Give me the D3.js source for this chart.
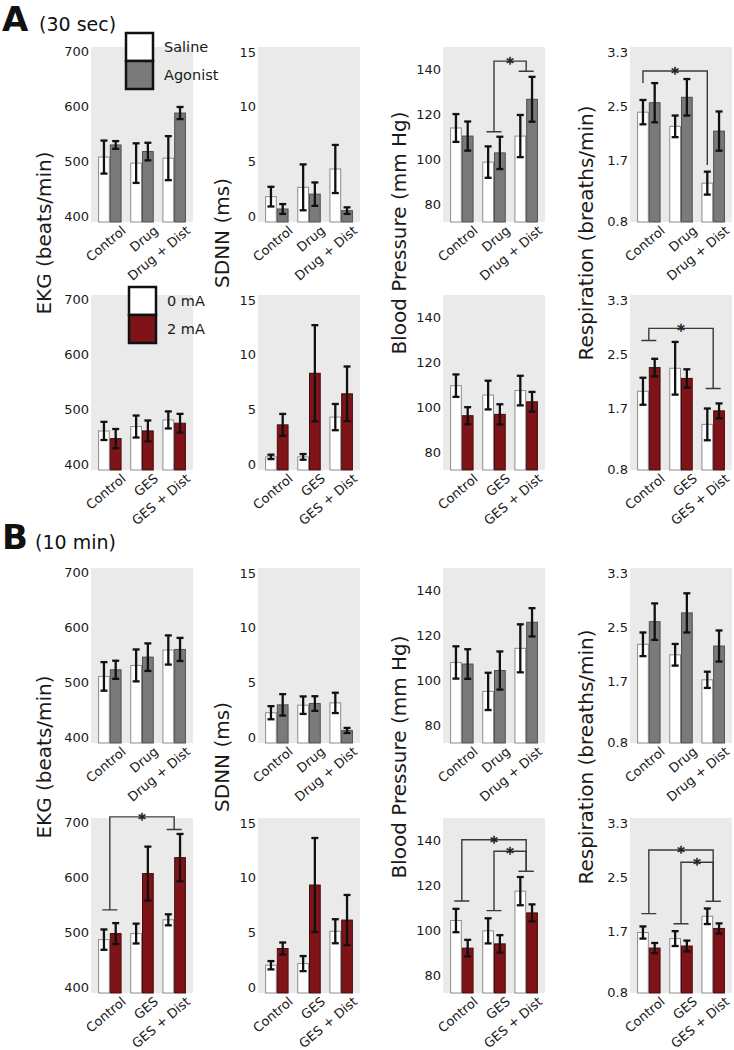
<!DOCTYPE html>
<html><head><meta charset="utf-8">
<script src="https://cdn.jsdelivr.net/npm/d3@7"></script>
<style>body{margin:0;background:#fff} text{font-family:"DejaVu Sans",sans-serif}</style>
</head><body><svg id="c" width="734" height="1050"></svg>
<script>
// ---------- DATA ----------
const drugGroups = ["Control", "Drug", "Drug + Dist"];
const gesGroups = ["Control", "GES", "GES + Dist"];
const drugSeries = ["Saline", "Agonist"];
const gesSeries = ["0 mA", "2 mA"];
const metricLabels = ["EKG (beats/min)", "SDNN (ms)", "Blood Pressure (mm Hg)", "Respiration (breaths/min)"];
const ekgTicks = [400, 500, 600, 700];
const sdnnTicks = [0, 5, 10, 15];
const bpTicks = [80, 100, 120, 140];
const respTicks = [0.8, 1.7, 2.5, 3.3];
const sectionTitles = ["A", "B"];
const sectionSubtitles = ["(30 sec)", "(10 min)"];

// means / errors, order: [g0s0, g0s1, g1s0, g1s1, g2s0, g2s1]; rows of metrics: EKG, SDNN, BP, Resp
const row1Means = [
  [507, 529, 496, 517, 505, 587],
  [1.77, 0.64, 2.62, 2.0, 4.3, 0.49],
  [113.9, 110.3, 98.7, 102.8, 110.3, 126.7],
  [2.41, 2.55, 2.2, 2.63, 1.36, 2.13]];
const row1Errs = [
  [30, 7, 36, 16, 40, 11],
  [0.9, 0.45, 2.1, 1.07, 2.2, 0.3],
  [6.2, 6.5, 7, 7.2, 9.4, 10],
  [0.18, 0.29, 0.16, 0.27, 0.17, 0.29]];
const row2Means = [
  [460, 446, 468, 460, 480, 474],
  [0.65, 3.58, 0.65, 8.3, 4.29, 6.42],
  [109.6, 96.2, 105.4, 96.8, 107.4, 102.4],
  [1.95, 2.30, 2.29, 2.14, 1.46, 1.66]];
const row2Errs = [
  [16.5, 17.5, 20, 19, 15.5, 17],
  [0.2, 1.0, 0.26, 4.4, 1.2, 2.5],
  [5, 3.8, 6.4, 4.5, 6.6, 4.4],
  [0.2, 0.13, 0.39, 0.135, 0.235, 0.11]];
const row3Means = [
  [510, 522, 530, 545, 558, 559],
  [2.22, 2.94, 2.91, 3.06, 3.12, 0.6],
  [107.9, 107.2, 95, 104.3, 114.2, 125.8],
  [2.245, 2.58, 2.09, 2.71, 1.72, 2.22]];
const row3Errs = [
  [26, 16.5, 29, 25, 26.5, 21],
  [0.6, 0.98, 0.8, 0.67, 0.93, 0.23],
  [7.2, 6.6, 8.3, 8.5, 10.7, 6.3],
  [0.175, 0.27, 0.16, 0.29, 0.12, 0.23]];
const row4Means = [
  [486, 497, 497, 606, 522, 635],
  [1.99, 3.52, 2.14, 9.33, 5.1, 6.12],
  [104.3, 92, 99.7, 93.9, 117.4, 107.7],
  [1.68, 1.45, 1.59, 1.48, 1.92, 1.74]];
const row4Errs = [
  [18.5, 19, 18, 49, 10, 43],
  [0.38, 0.55, 0.69, 4.3, 1.1, 2.3],
  [5.2, 3.7, 5.6, 3.9, 6.3, 3.8],
  [0.09, 0.075, 0.11, 0.08, 0.115, 0.075]];

// significance brackets: metric index, from/to group (series null = group centre), levels in data units
const row1Brackets = [
  {m: 2, g1: 1, s1: null, g2: 2, s2: null, v1: 112.2, v2: 139.2, top: 143.7, caps: true},
  {m: 3, g1: 0, s1: 0, g2: 2, s2: 0, v1: 2.84, v2: 1.63, top: 3.02, caps: false}];
const row2Brackets = [
  {m: 3, g1: 0, s1: null, g2: 2, s2: null, v1: 2.70, v2: 1.99, top: 2.88, caps: true}];
const row3Brackets = [];
const row4Brackets = [
  {m: 0, g1: 0, s1: null, g2: 2, s2: null, v1: 540, v2: 686, top: 709, caps: true},
  {m: 2, g1: 0, s1: null, g2: 2, s2: null, v1: 113, v2: 126.2, top: 140.3, caps: true},
  {m: 2, g1: 1, s1: null, g2: 2, s2: null, v1: 108.7, v2: 126.2, top: 135.2, caps: true},
  {m: 3, g1: 0, s1: null, g2: 2, s2: null, v1: 1.96, v2: 2.14, top: 2.9, caps: true},
  {m: 3, g1: 1, s1: null, g2: 2, s2: null, v1: 1.81, v2: 2.14, top: 2.72, caps: true}];

// ---------- LAYOUT ----------
const svg = d3.select("#c");
svg.append("rect").attr("width", 734).attr("height", 1050).attr("fill", "#fff");
const colLeft = [91, 258, 443, 630];
const panelW = 102, panelH = 175;
const rowTop = [47, 295, 568, 818];
const yDomains = [[389, 707], [-0.55, 15.46], [72, 150], [0.785, 3.374]];
const tickSets = [ekgTicks, sdnnTicks, bpTicks, respTicks];
const tickFmt = [d3.format("d"), d3.format("d"), d3.format("d"), d3.format(".1f")];
const labelX = [44, 222, 399, 586];
const labelY = [233, 757];
const bg = "#e9eae9";
const drugColors = ["#ffffff", "#7a7a7a"], drugStroke = ["#8c8c8c", "#4f4f4f"];
const gesColors = ["#ffffff", "#7e1417"], gesStroke = ["#8c8c8c", "#4a0a0b"];

const rows = [
  {means: row1Means, errs: row1Errs, groups: drugGroups, series: drugSeries, fill: drugColors, stroke: drugStroke, brackets: row1Brackets, legend: [126, 33]},
  {means: row2Means, errs: row2Errs, groups: gesGroups, series: gesSeries, fill: gesColors, stroke: gesStroke, brackets: row2Brackets, legend: [129, 287]},
  {means: row3Means, errs: row3Errs, groups: drugGroups, series: drugSeries, fill: drugColors, stroke: drugStroke, brackets: row3Brackets, legend: null},
  {means: row4Means, errs: row4Errs, groups: gesGroups, series: gesSeries, fill: gesColors, stroke: gesStroke, brackets: row4Brackets, legend: null}];

rows.forEach((row, r) => {
  const top = rowTop[r];
  for (let m = 0; m < 4; m++) {
    const L = colLeft[m];
    const g = svg.append("g");
    const x0 = d3.scaleBand().domain(row.groups).range([L, L + panelW]).paddingInner(0.27).paddingOuter(0.22);
    const x1 = d3.scaleBand().domain(row.series).range([0, x0.bandwidth()]);
    const y = d3.scaleLinear().domain(yDomains[m]).range([top + panelH, top]);
    g.append("rect").attr("x", L).attr("y", top).attr("width", panelW).attr("height", panelH).attr("fill", bg);

    const items = [];
    row.groups.forEach((gr, gi) => row.series.forEach((s, si) => {
      items.push({gr, s, si, v: row.means[m][gi * 2 + si], e: row.errs[m][gi * 2 + si]});
    }));
    g.selectAll("rect.bar").data(items).join("rect").attr("class", "bar")
      .attr("x", d => x0(d.gr) + x1(d.s) + 0.5)
      .attr("width", x1.bandwidth() - 1)
      .attr("y", d => y(d.v))
      .attr("height", d => y(yDomains[m][0]) - y(d.v))
      .attr("fill", d => row.fill[d.si])
      .attr("stroke", d => row.stroke[d.si]).attr("stroke-width", 1);
    const cx = d => x0(d.gr) + x1(d.s) + x1.bandwidth() / 2;
    const eb = g.selectAll("g.eb").data(items).join("g").attr("class", "eb")
      .attr("stroke", "#111").attr("stroke-width", 2.3);
    eb.append("line").attr("x1", cx).attr("x2", cx).attr("y1", d => y(d.v - d.e)).attr("y2", d => y(d.v + d.e));
    eb.append("line").attr("x1", d => cx(d) - 3.5).attr("x2", d => cx(d) + 3.5).attr("y1", d => y(d.v + d.e)).attr("y2", d => y(d.v + d.e));
    eb.append("line").attr("x1", d => cx(d) - 3.5).attr("x2", d => cx(d) + 3.5).attr("y1", d => y(d.v - d.e)).attr("y2", d => y(d.v - d.e));

    // y axis
    const ax = g.append("g").attr("transform", `translate(${L - 1},0)`)
      .call(d3.axisLeft(y).tickValues(tickSets[m]).tickSize(0).tickPadding(1).tickFormat(tickFmt[m]));
    ax.select(".domain").remove();
    ax.selectAll("text").attr("font-size", 13).attr("fill", "#1a1a1a").attr("font-family", "DejaVu Sans");

    // x labels
    g.selectAll("text.xl").data(row.groups).join("text").attr("class", "xl")
      .attr("transform", d => `translate(${x0(d) + x0.bandwidth() / 2 + 17},${top + panelH + 10}) rotate(-40)`)
      .attr("text-anchor", "end").attr("font-size", 13).attr("fill", "#1a1a1a").text(d => d);

    // brackets
    row.brackets.filter(b => b.m === m).forEach(b => {
      const ax1 = b.s1 === null ? x0(row.groups[b.g1]) + x0.bandwidth() / 2 : x0(row.groups[b.g1]) + x1(row.series[b.s1]) + x1.bandwidth() / 2;
      const ax2 = b.s2 === null ? x0(row.groups[b.g2]) + x0.bandwidth() / 2 : x0(row.groups[b.g2]) + x1(row.series[b.s2]) + x1.bandwidth() / 2;
      const path = d3.path();
      path.moveTo(ax1, y(b.v1)); path.lineTo(ax1, y(b.top)); path.lineTo(ax2, y(b.top)); path.lineTo(ax2, y(b.v2));
      if (b.caps) {
        path.moveTo(ax1 - 7.5, y(b.v1)); path.lineTo(ax1 + 7.5, y(b.v1));
        path.moveTo(ax2 - 7.5, y(b.v2)); path.lineTo(ax2 + 7.5, y(b.v2));
      }
      g.append("path").attr("d", path.toString()).attr("fill", "none").attr("stroke", "#3a3a3a").attr("stroke-width", 1.4);
      g.append("text").attr("x", (ax1 + ax2) / 2).attr("y", y(b.top) + 8).attr("text-anchor", "middle")
        .attr("font-size", 15).attr("fill", "#222").attr("stroke", "#222").attr("stroke-width", 0.6)
        .attr("transform", `rotate(0.01 ${(ax1 + ax2) / 2} ${y(b.top)})`).text("*");
    });
  }
  // legend
  if (row.legend) {
    const [lx, ly] = row.legend;
    const lg = svg.append("g");
    row.series.forEach((s, si) => {
      lg.append("rect").attr("x", lx).attr("y", ly + si * 28).attr("width", 27).attr("height", 28)
        .attr("fill", row.fill[si]).attr("stroke", "#111").attr("stroke-width", 2.5);
      lg.append("text").attr("x", lx + 38).attr("y", ly + si * 28 + 14).attr("dy", "0.35em")
        .attr("font-size", 14.5).attr("fill", "#1a1a1a").text(s);
    });
  }
});

// y-axis titles (shared by row pairs)
labelY.forEach(yc => {
  metricLabels.forEach((lab, m) => {
    svg.append("text").attr("transform", `translate(${labelX[m]},${yc}) rotate(-90)`)
      .attr("text-anchor", "middle").attr("dy", "0.35em").attr("font-size", 20).attr("fill", "#1a1a1a").text(lab);
  });
});

// section titles
const titleY = [31, 549];
sectionTitles.forEach((t, i) => {
  svg.append("text").attr("x", 2).attr("y", titleY[i]).attr("font-size", 34).attr("font-weight", "bold")
    .attr("font-family", "Liberation Sans, Arial, sans-serif").attr("fill", "#111").text(t);
  svg.append("text").attr("x", i === 0 ? 39 : 35).attr("y", titleY[i]).attr("font-size", 19).attr("fill", "#111").text(sectionSubtitles[i]);
});
</script></body></html>
